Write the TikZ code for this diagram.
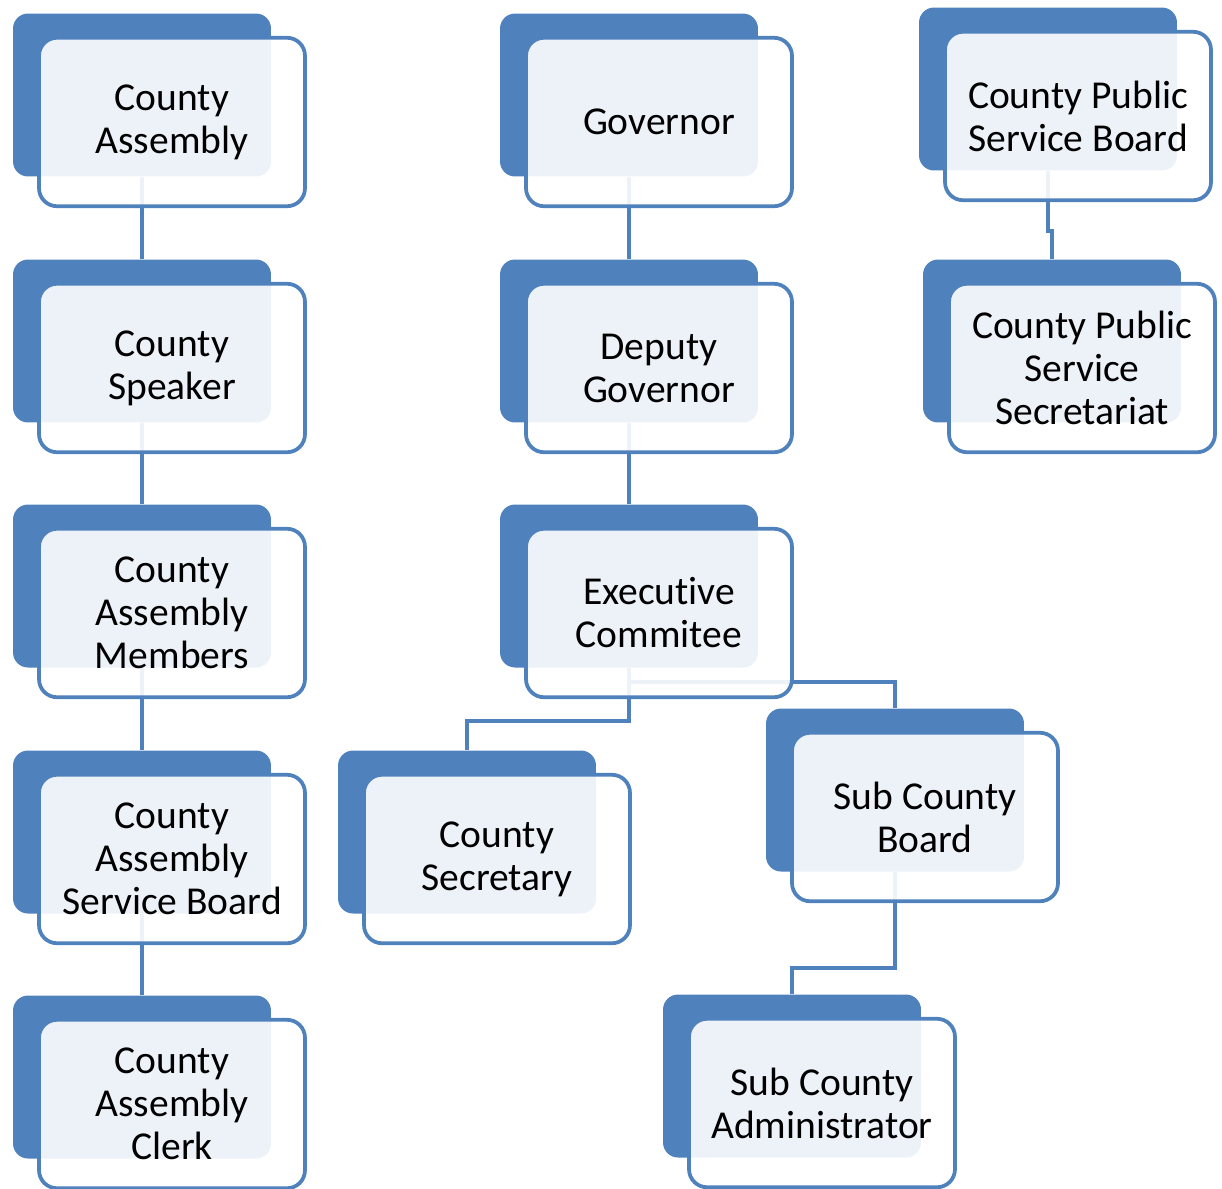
\documentclass[tikz,border=0pt]{standalone}
\usepackage{fontspec}
\setmainfont{Carlito}[Ligatures=NoCommon]
\usepackage{tikz}
\usetikzlibrary{calc}
\definecolor{boxblue}{HTML}{4F81BD}
\tikzstyle{shade} = [rectangle, fill=boxblue, rounded corners=0.3cm,
minimum width=5.16cm, minimum height=3.26cm, inner sep=0pt]
\tikzstyle{card} = [rectangle, draw=boxblue, line width=0.075cm, fill=white,
fill opacity=0.9, text opacity=1, rounded corners=0.36cm,
minimum width=5.32cm, minimum height=3.37cm, inner sep=0pt,
align=center, xshift=0.6cm, yshift=-0.54cm,
font=\fontsize{22.5}{24.5}\selectfont]
\tikzstyle{link} = [draw=boxblue, line width=0.08cm]

\begin{document}
\begin{tikzpicture}[x=0.02cm, y=-0.02cm]
\useasboundingbox (0,0) rectangle (1222,1188);

% Place back boxes
\node [shade] (ca) at (142,95) {};
\node [shade] (csp) at (142,341) {};
\node [shade] (cam) at (142,586) {};
\node [shade] (casb) at (142,832) {};
\node [shade] (cac) at (142,1077) {};
\node [shade] (gov) at (629,95) {};
\node [shade] (dg) at (629,341) {};
\node [shade] (ec) at (629,586) {};
\node [shade] (csec) at (467,832) {};
\node [shade] (scb) at (895,790) {};
\node [shade] (sca) at (792,1076) {};
\node [shade] (cpsb) at (1048,89) {};
\node [shade] (cpss) at (1052,341) {};

% Draw edges
\path [link] (ca) -- (csp);
\path [link] (csp) -- (cam);
\path [link] (cam) -- (casb);
\path [link] (casb) -- (cac);
\path [link] (gov) -- (dg);
\path [link] (dg) -- (ec);
\path [link] (ec.south) -- ++(0,53) -| (csec.north);
\path [link] ($(ec.south)+(0,14)$) -| (scb.north);
\path [link] (scb.south) -- ++(0,96) -| (sca.north);
\path [link] (cpsb.south) -- ++(0,60) -| (cpss.north);

% Place front boxes
\node [card] (caT) at (ca) {County\\Assembly};
\node [card] (cspT) at (csp) {County\\Speaker};
\node [card] (camT) at (cam) {County\\Assembly\\Members};
\node [card] (casbT) at (casb) {County\\Assembly\\Service Board};
\node [card] (cacT) at (cac) {County\\Assembly\\Clerk};
\node [card] (govT) at (gov) {Governor};
\node [card] (dgT) at (dg) {Deputy\\Governor};
\node [card] (ecT) at (ec) {Executive\\Commitee};
\node [card] (csecT) at (csec) {County\\Secretary};
\node [card] (scbT) at (scb) {Sub County\\Board};
\node [card] (scaT) at (sca) {Sub County\\Administrator};
\node [card] (cpsbT) at (cpsb) {County Public\\Service Board};
\node [card] (cpssT) at (cpss) {County Public\\Service\\Secretariat};
\end{tikzpicture}
\end{document}
